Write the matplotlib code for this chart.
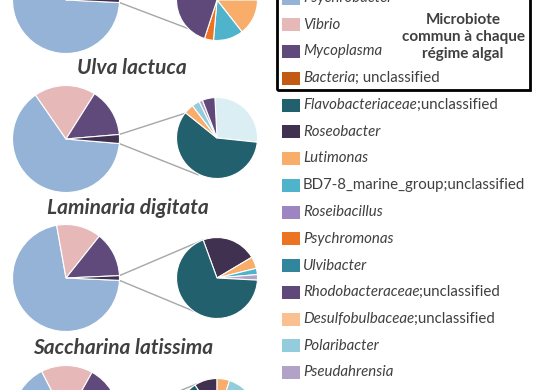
import matplotlib
matplotlib.use("Agg")
import matplotlib.pyplot as plt
from matplotlib.patches import Rectangle
import numpy as np

# couleurs des taxons (palette type Excel)
couleurs = {
    "Psychrobacter": "#95B3D7",
    "Vibrio": "#E6B9B8",
    "Mycoplasma": "#604A7B",
    "Bacteria": "#C25A13",
    "Flavobacteriaceae": "#23606E",
    "Roseobacter": "#403151",
    "Lutimonas": "#F9AD6A",
    "BD7-8": "#4FB3CC",
    "Roseibacillus": "#9C85C0",
    "Psychromonas": "#EC7322",
    "Ulvibacter": "#31859C",
    "Rhodobacteraceae": "#5F497A",
    "Desulfobulbaceae": "#FAC090",
    "Polaribacter": "#93CDDD",
    "Pseudahrensia": "#B3A2C7",
    "Autres": "#DAEEF3",
    "Reste": "#403151",
}

# legende : (partie italique, partie droite)
legende_noms = [
    ("Psychrobacter", ""), ("Vibrio", ""), ("Mycoplasma", ""),
    ("Bacteria", "; unclassified"), ("Flavobacteriaceae", ";unclassified"),
    ("Roseobacter", ""), ("Lutimonas", ""), ("", "BD7-8_marine_group;unclassified"),
    ("Roseibacillus", ""), ("Psychromonas", ""), ("Ulvibacter", ""),
    ("Rhodobacteraceae", ";unclassified"), ("Desulfobulbaceae", ";unclassified"),
    ("Polaribacter", ""), ("Pseudahrensia", ""),
]
legende_cles = ["Psychrobacter", "Vibrio", "Mycoplasma", "Bacteria", "Flavobacteriaceae",
                "Roseobacter", "Lutimonas", "BD7-8", "Roseibacillus", "Psychromonas",
                "Ulvibacter", "Rhodobacteraceae", "Desulfobulbaceae", "Polaribacter",
                "Pseudahrensia"]

regimes = ["Ulva lactuca", "Laminaria digitata", "Saccharina latissima", ""]

# camembert principal (%), ordre horaire
principal_taxons = ["Psychrobacter", "Vibrio", "Mycoplasma", "Reste"]
principal_ulva = [70.0, 14.0, 14.5, 1.5]
principal_laminaria = [64.0, 18.6, 14.7, 2.7]
principal_saccharina = [71.5, 13.5, 13.6, 1.4]
principal_4 = [66.5, 15.6, 15.9, 2.0]

# camembert secondaire (%), ordre horaire depuis l'angle de depart
sec_ulva_taxons = ["Autres", "Lutimonas", "BD7-8", "Psychromonas", "Rhodobacteraceae", "Desulfobulbaceae"]
sec_ulva = [25.0, 14.4, 12.0, 3.6, 42.2, 2.8]
sec_laminaria_taxons = ["Autres", "Flavobacteriaceae", "Lutimonas", "Polaribacter", "Pseudahrensia", "Rhodobacteraceae"]
sec_laminaria = [27.5, 59.1, 3.9, 3.1, 1.4, 5.0]
sec_saccharina_taxons = ["Roseobacter", "Lutimonas", "BD7-8", "Pseudahrensia", "Flavobacteriaceae"]
sec_saccharina = [22.0, 4.7, 2.5, 2.2, 68.6]
sec_4_taxons = ["Roseobacter", "Lutimonas", "Polaribacter", "Flavobacteriaceae"]
sec_4 = [9.2, 5.0, 11.7, 74.1]

W, H = 545, 390
plt.rcParams['font.family'] = ['Lato', 'DejaVu Sans']
gris = "#404040"

fig = plt.figure(figsize=(W / 100, H / 100), dpi=100)
ax = fig.add_axes([0, 0, 1, 1])


def Y(y):
    return H - y


groupes = [
    (principal_ulva, sec_ulva_taxons, sec_ulva, 90, 0, (132, 68), (120, 225)),
    (principal_laminaria, sec_laminaria_taxons, sec_laminaria, 93, 139, (128, 208), (140, 242)),
    (principal_saccharina, sec_saccharina_taxons, sec_saccharina, 110, 278, (123, 348), (110, 235)),
    (principal_4, sec_4_taxons, sec_4, 123, 419, None, (120, 235)),
]
R1, R2 = 53.5, 40.5
CX1, CX2 = 66, 217

for i, (pv, st, sv, start2, cy, lab, att) in enumerate(groupes):
    a = pv[-1] / 100 * 360
    ax.pie(pv, colors=[couleurs[t] for t in principal_taxons], startangle=-a / 2,
           counterclock=False, center=(CX1, Y(cy)), radius=R1, frame=True,
           wedgeprops=dict(edgecolor="white", linewidth=0.8))
    ax.pie(sv, colors=[couleurs[t] for t in st], startangle=start2,
           counterclock=False, center=(CX2, Y(cy + (-1 if i == 1 else 0))), radius=R2, frame=True,
           wedgeprops=dict(edgecolor="white", linewidth=0.8))
    # lignes de liaison
    for ang1, ang2 in [(a / 2, att[0]), (-a / 2, att[1])]:
        x1 = CX1 + R1 * np.cos(np.radians(ang1))
        y1 = Y(cy) + R1 * np.sin(np.radians(ang1))
        x2 = CX2 + R2 * np.cos(np.radians(ang2))
        y2 = Y(cy) + R2 * np.sin(np.radians(ang2))
        ax.plot([x1, x2], [y1, y2], color="#A6A6A6", lw=1.0, zorder=0.5)
    if lab is not None:
        ax.text(lab[0], Y(lab[1]), regimes[i], ha="center", va="center",
                fontsize=15, fontweight="bold", style="italic", color=gris)

# legende
fig.canvas.draw()
for k, (it, dr) in enumerate(legende_noms):
    yc = Y(-2 + 26.75 * k)
    ax.add_patch(Rectangle((282, yc - 6.5), 18, 13, facecolor=couleurs[legende_cles[k]],
                           edgecolor="none"))
    if it:
        t = ax.text(303, yc, it, ha="left", va="center", fontsize=10.8,
                    style="italic", color=gris)
        if dr:
            ax.annotate(dr, xy=(1, 0), xycoords=t, ha="left", va="bottom",
                        fontsize=10.8, color=gris)
    else:
        ax.text(303, yc, dr, ha="left", va="center", fontsize=10.8, color=gris)

ax.add_patch(Rectangle((277, Y(90)), 253, 110, facecolor="none", edgecolor="black",
                       linewidth=2.0, zorder=3))
ax.text(463, Y(37), "Microbiote\ncommun à chaque\nrégime algal", ha="center", va="center",
        fontsize=11, fontweight="bold", color=gris, linespacing=1.25)

ax.set_xlim(0, W)
ax.set_ylim(0, H)
ax.set_aspect("auto")
ax.axis("off")

fig.savefig("out.png", dpi=100)
